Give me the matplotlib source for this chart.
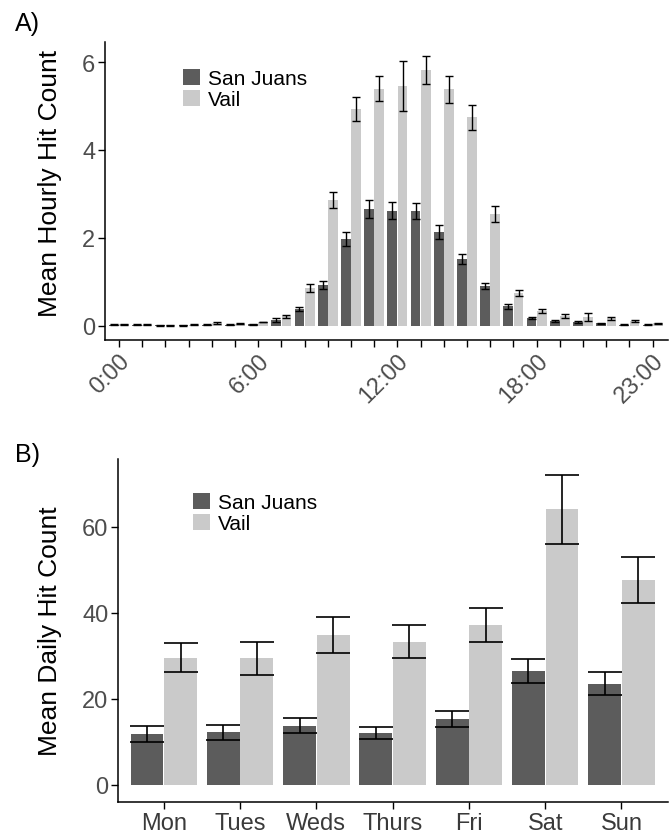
import numpy as np
import matplotlib
matplotlib.use("Agg")
import matplotlib.pyplot as plt

plt.rcParams["font.family"] = ["Liberation Sans", "DejaVu Sans"]

# ── Datos ───────────────────────────────────────────────────────────────────
hours = list(range(24))
hour_labels = {0: "0:00", 6: "6:00", 12: "12:00", 18: "18:00", 23: "23:00"}

sj_hour = [0.02, 0.02, 0.01, 0.01, 0.02, 0.02, 0.03, 0.12, 0.38, 0.92, 1.98, 2.66,
           2.62, 2.61, 2.13, 1.51, 0.90, 0.44, 0.17, 0.10, 0.08, 0.05, 0.02, 0.02]
sj_hour_err = [0.01, 0.01, 0.01, 0.01, 0.01, 0.01, 0.01, 0.05, 0.05, 0.09, 0.16, 0.20,
               0.20, 0.19, 0.15, 0.11, 0.06, 0.06, 0.03, 0.02, 0.02, 0.01, 0.01, 0.01]
vail_hour = [0.03, 0.02, 0.01, 0.02, 0.05, 0.04, 0.08, 0.21, 0.86, 2.86, 4.93, 5.40,
             5.46, 5.83, 5.38, 4.74, 2.55, 0.74, 0.33, 0.22, 0.20, 0.16, 0.11, 0.05]
vail_hour_err = [0.01, 0.01, 0.01, 0.01, 0.02, 0.01, 0.01, 0.03, 0.09, 0.19, 0.28, 0.28,
                 0.57, 0.32, 0.31, 0.28, 0.18, 0.06, 0.04, 0.05, 0.09, 0.03, 0.02, 0.01]

days = ["Mon", "Tues", "Weds", "Thurs", "Fri", "Sat", "Sun"]
sj_day = [11.9, 12.2, 13.8, 12.0, 15.3, 26.4, 23.5]
sj_day_err = [1.9, 1.7, 1.7, 1.4, 1.8, 2.8, 2.7]
vail_day = [29.6, 29.4, 34.8, 33.3, 37.1, 64.0, 47.6]
vail_day_err = [3.4, 3.8, 4.2, 3.9, 4.0, 8.1, 5.3]

DARK = "#5c5c5c"
LIGHT = "#cacaca"
TICK_COL = "#4d4d4d"
W, H = 669, 837

fig = plt.figure(figsize=(W / 100, H / 100), dpi=100, facecolor="white")
axA = fig.add_axes([105 / W, 1 - 341 / H, 563 / W, 298 / H])
axB = fig.add_axes([118 / W, 1 - 803 / H, 550 / W, 343 / H])


def style(ax):
    for s in ("top", "right"):
        ax.spines[s].set_visible(False)
    for s in ("left", "bottom"):
        ax.spines[s].set_linewidth(1.1)
    ax.tick_params(length=5, width=1.0, color="black", labelcolor=TICK_COL,
                   labelsize=17, pad=2)


# ── Panel A: por hora ───────────────────────────────────────────────────────
x = np.arange(len(hours))
axA.bar(x - 0.22, sj_hour, 0.42, color=DARK, label="San Juans")
axA.bar(x + 0.22, vail_hour, 0.42, color=LIGHT, label="Vail")
axA.errorbar(x - 0.22, sj_hour, yerr=sj_hour_err, fmt="none", ecolor="black",
             elinewidth=1.0, capsize=3, capthick=1.0)
axA.errorbar(x + 0.22, vail_hour, yerr=vail_hour_err, fmt="none", ecolor="black",
             elinewidth=1.0, capsize=3, capthick=1.0)
style(axA)
axA.set_xlim(-0.6, 23.66)
axA.set_ylim(-0.33, 6.46)
axA.set_yticks([0, 2, 4, 6])
axA.set_xticks(x)
axA.set_xticklabels([hour_labels.get(h, "") for h in hours], rotation=45,
                    ha="right", va="top", rotation_mode="anchor")
axA.set_ylabel("Mean Hourly Hit Count", fontsize=19)
axA.yaxis.set_label_coords(-0.076, 0.528)
axA.legend(loc="upper left", bbox_to_anchor=(183 / W, 1 - 70 / H),
           bbox_transform=fig.transFigure, frameon=False, fontsize=15,
           handlelength=0.8, handleheight=0.8, handletextpad=0.4,
           labelspacing=0.1, borderpad=0, borderaxespad=0)

# ── Panel B: por día ────────────────────────────────────────────────────────
xd = np.arange(len(days))
axB.bar(xd - 0.22, sj_day, 0.43, color=DARK, label="San Juans")
axB.bar(xd + 0.22, vail_day, 0.43, color=LIGHT, label="Vail")
axB.errorbar(xd - 0.22, sj_day, yerr=sj_day_err, fmt="none", ecolor="black",
             elinewidth=1.2, capsize=12, capthick=1.2)
axB.errorbar(xd + 0.22, vail_day, yerr=vail_day_err, fmt="none", ecolor="black",
             elinewidth=1.2, capsize=12, capthick=1.2)
style(axB)
axB.set_xlim(-0.6, 6.61)
axB.set_ylim(-3.95, 75.7)
axB.set_yticks([0, 20, 40, 60])
axB.set_xticks(xd)
axB.set_xticklabels(days)
axB.tick_params(axis="x", labelcolor="#3a3a3a")
axB.set_ylabel("Mean Daily Hit Count", fontsize=19)
axB.yaxis.set_label_coords(-0.102, 0.501)
axB.legend(loc="upper left", bbox_to_anchor=(193 / W, 1 - 494 / H),
           bbox_transform=fig.transFigure, frameon=False, fontsize=15,
           handlelength=0.8, handleheight=0.8, handletextpad=0.4,
           labelspacing=0.1, borderpad=0, borderaxespad=0)

fig.text(15 / W, 1 - 12 / H, "A)", fontsize=18, ha="left", va="top")
fig.text(15 / W, 1 - 443 / H, "B)", fontsize=18, ha="left", va="top")

fig.savefig("out.png", dpi=100, facecolor="white")
